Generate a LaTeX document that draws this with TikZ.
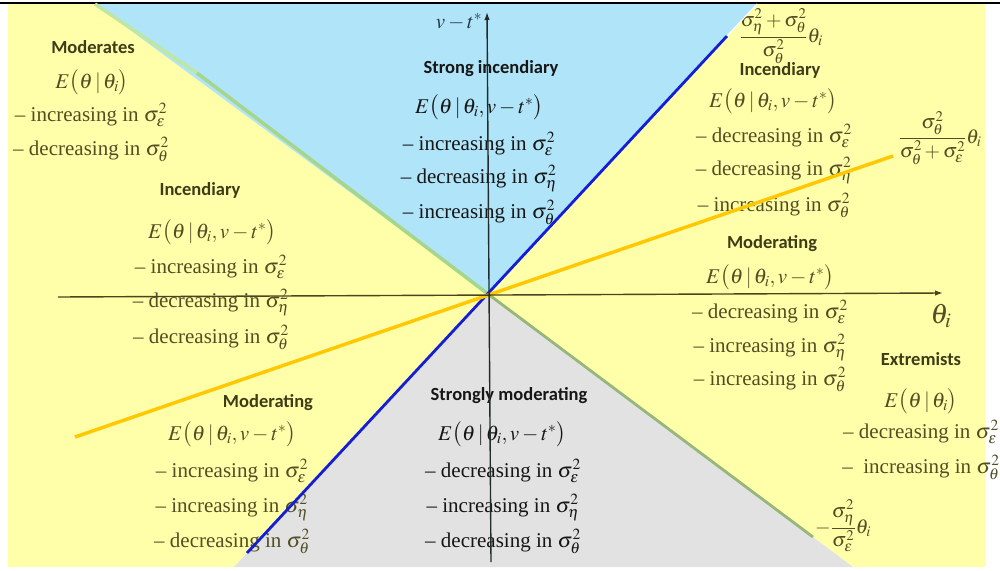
\documentclass[tikz,border=0pt]{standalone}
\usepackage{amsmath}
\usepackage{mathptmx}
\usepackage{fontspec}
\setmainfont{Liberation Serif}
\newfontfamily\labfont{Carlito}
\usetikzlibrary{arrows.meta}
\definecolor{ybg}{RGB}{255,255,170}
\definecolor{bbg}{RGB}{176,228,248}
\definecolor{gbg}{RGB}{226,226,226}
\definecolor{ty}{RGB}{82,78,36}
\definecolor{tyb}{RGB}{62,60,22}
\definecolor{tb}{RGB}{22,22,22}
\definecolor{tv}{RGB}{40,55,75}
\definecolor{glight}{RGB}{165,214,140}
\definecolor{gtop}{RGB}{190,230,165}
\definecolor{gdark}{RGB}{150,182,122}
\definecolor{bl}{RGB}{20,30,215}
\definecolor{gold}{RGB}{255,200,0}
\definecolor{axy}{RGB}{72,70,28}
\definecolor{axb}{RGB}{35,42,42}
\begin{document}
\begin{tikzpicture}[x=1pt,y=-1pt,
  lab/.style={font=\labfont\fontsize{18.5}{22}\selectfont\bfseries, anchor=base, inner sep=0pt},
  ln/.style={font=\fontsize{21}{25}\selectfont, anchor=base, inner sep=0pt},
  fr/.style={font=\fontsize{20}{24}\selectfont, anchor=base, inner sep=0pt},
  tip/.style={-{Latex[length=8pt,width=5.5pt]}}]
\useasboundingbox (0,0) rectangle (1000,570);
\fill[white] (0,0) rectangle (1000,570);
% regions
\fill[ybg] (8,4) rectangle (985,567);
\coordinate (O) at (488,294);
\coordinate (bt1) at (95,4);
\coordinate (bt2) at (757,4);
\coordinate (gb1) at (234,567);
\coordinate (gb2) at (853,567);
\coordinate (gm) at (197,73);
\fill[bbg] (bt1) -- (O) -- (bt2) -- cycle;
\fill[gbg] (gb1) -- (O) -- (gb2) -- cycle;
\draw[black, line width=2pt] (0,2.5) -- (1000,2.5);

% Moderates
\node[lab,tyb] (mod) at (93,53) {Moderates};
\node[ln,ty] (modE) at (92,88) {$E\bigl(\theta\,|\,\theta_i\bigr)$};
\node[ln,ty] (modA) at (91,121) {– increasing in $\sigma_\varepsilon^2$};
\node[ln,ty] (modB) at (91,155) {– decreasing in $\sigma_\theta^2$};

% Incendiary left
\node[lab,tyb] (incL) at (200,195) {Incendiary};
\node[ln,ty] (incLE) at (212,238) {$E\bigl(\theta\,|\,\theta_i, v-t^*\bigr)$};
\node[ln,ty] (incLA) at (211,273) {– increasing in $\sigma_\varepsilon^2$};
\node[ln,ty] (incLB) at (211,307) {– decreasing in $\sigma_\eta^2$};
\node[ln,ty] (incLC) at (211,343) {– decreasing in $\sigma_\theta^2$};

% Strong incendiary
\node[lab,tb] (sinc) at (491,73) {Strong incendiary};
\node[ln,tb] (sincE) at (479,113) {$E\bigl(\theta\,|\,\theta_i, v-t^*\bigr)$};
\node[ln,tb] (sincA) at (479,150) {– increasing in $\sigma_\varepsilon^2$};
\node[ln,tb] (sincB) at (479,183) {– decreasing in $\sigma_\eta^2$};
\node[ln,tb] (sincC) at (479,218) {– increasing in $\sigma_\theta^2$};
\node[ln,tv] (vt) at (459,28) {$v-t^*$};

% Incendiary right
\node[fr,ty] (fr1) at (781,42) {$\dfrac{\sigma_\eta^2+\sigma_\theta^2}{\sigma_\theta^2}\theta_i$};
\node[lab,tyb] (incR) at (780,75) {Incendiary};
\node[ln,ty] (incRE) at (773,107) {$E\bigl(\theta\,|\,\theta_i, v-t^*\bigr)$};
\node[ln,ty] (incRA) at (774,142) {– decreasing in $\sigma_\varepsilon^2$};
\node[ln,ty] (incRB) at (774,175) {– decreasing in $\sigma_\eta^2$};
\node[ln,ty] (incRC) at (774,211) {– increasing in $\sigma_\theta^2$};
\node[fr,ty] (fr2) at (940,143) {$\dfrac{\sigma_\theta^2}{\sigma_\theta^2+\sigma_\varepsilon^2}\theta_i$};

% Moderating right
\node[lab,tyb] (modR) at (772,248) {Moderating};
\node[ln,ty] (modRE) at (770,283) {$E\bigl(\theta\,|\,\theta_i, v-t^*\bigr)$};
\node[ln,ty] (modRA) at (770,318) {– decreasing in $\sigma_\varepsilon^2$};
\node[ln,ty] (modRB) at (770,352) {– increasing in $\sigma_\eta^2$};
\node[ln,ty] (modRC) at (770,385) {– increasing in $\sigma_\theta^2$};
\node[ty, anchor=base, inner sep=0pt, font=\fontsize{28}{30}\selectfont] (thi) at (941,323) {$\theta_i$};

% Extremists
\node[lab,tyb] (ext) at (921,365) {Extremists};
\node[ln,ty] (extE) at (921,407) {$E\bigl(\theta\,|\,\theta_i\bigr)$};
\node[ln,ty] (extA) at (921,438) {– decreasing in $\sigma_\varepsilon^2$};
\node[ln,ty] (extB) at (921,473) {–~ increasing in $\sigma_\theta^2$};

% Moderating left
\node[lab,tyb] (modL) at (268,407) {Moderating};
\node[ln,ty] (modLE) at (232,440) {$E\bigl(\theta\,|\,\theta_i, v-t^*\bigr)$};
\node[ln,ty] (modLA) at (232,477) {– increasing in $\sigma_\varepsilon^2$};
\node[ln,ty] (modLB) at (232,512) {– increasing in $\sigma_\eta^2$};
\node[ln,ty] (modLC) at (232,547) {– decreasing in $\sigma_\theta^2$};

% Strongly moderating
\node[lab,tb] (smod) at (509,400) {Strongly moderating};
\node[ln,tb] (smodE) at (502,440) {$E\bigl(\theta\,|\,\theta_i, v-t^*\bigr)$};
\node[ln,tb] (smodA) at (503,477) {– decreasing in $\sigma_\varepsilon^2$};
\node[ln,tb] (smodB) at (503,512) {– increasing in $\sigma_\eta^2$};
\node[ln,tb] (smodC) at (503,547) {– decreasing in $\sigma_\theta^2$};

\node[fr,ty] (fr3) at (843,533) {$-\dfrac{\sigma_\eta^2}{\sigma_\varepsilon^2}\theta_i$};

% lines
\coordinate (g2) at (813,537);
\coordinate (b1) at (247,553);
\coordinate (b2) at (727,36);
\coordinate (y1) at (75,437);
\coordinate (y2) at (893,156);
\draw[gtop, line width=3.5pt] (bt1) -- (gm);
\draw[glight, line width=3.5pt] (gm) -- (O);
\draw[gdark, line width=2.8pt] (O) -- (g2);
\draw[bl, line width=2.8pt] (b1) -- (b2);
\draw[white, line width=1.2pt] (b2) -- (bt2);
\draw[gold, line width=3.5pt] (y1) -- (y2);

% axes
\coordinate (hx1) at (58,297);
\coordinate (hx2) at (943,293);
\coordinate (vx1) at (491,562);
\coordinate (vx2) at (487,12);
\draw[axy, line width=1.4pt, tip] (hx1) -- (hx2);
\draw[axb, line width=1.4pt, tip] (vx1) -- (vx2);
\end{tikzpicture}
\end{document}
